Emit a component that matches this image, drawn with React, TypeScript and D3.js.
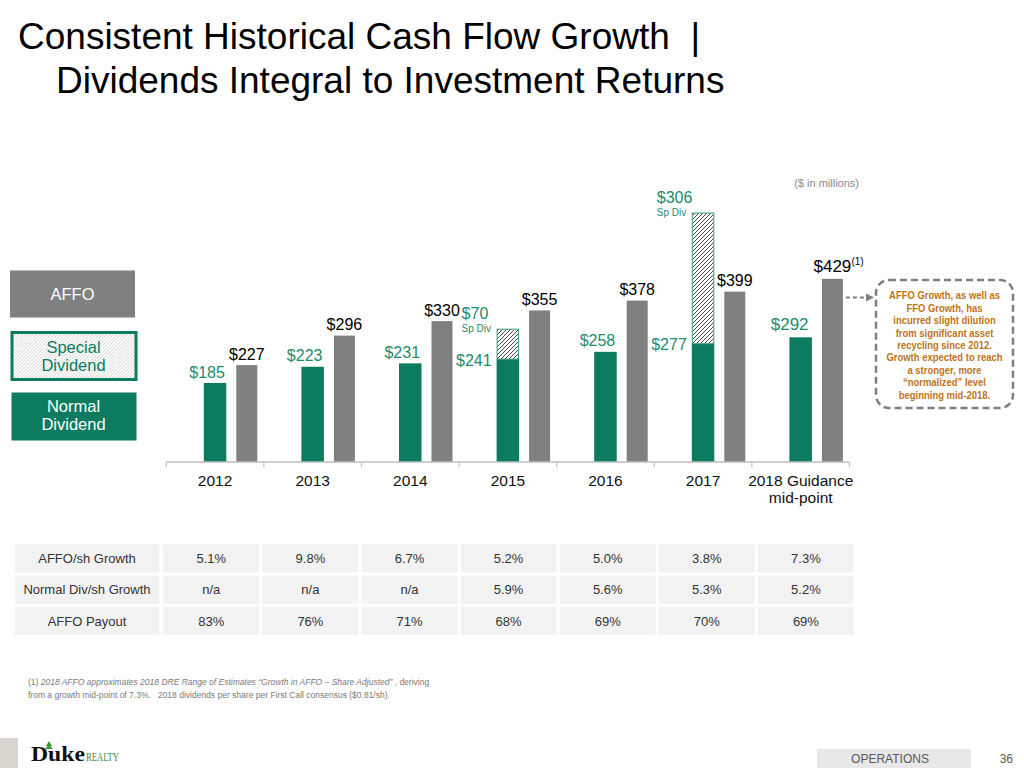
import React from "react";
import * as d3 from "d3";

// ---------- data ----------
const categories = ["2012", "2013", "2014", "2015", "2016", "2017", "2018"];
const categoryLabels = [["2012"], ["2013"], ["2014"], ["2015"], ["2016"], ["2017"], ["2018 Guidance", "mid-point"]];
const normalDividend = [185, 223, 231, 241, 258, 277, 292];
const specialDividend = [0, 0, 0, 70, 0, 306, 0];
const affo = [227, 296, 330, 355, 378, 399, 429];

const tableRowLabels = ["AFFO/sh Growth", "Normal Div/sh Growth", "AFFO Payout"];
const affoShGrowth = ["5.1%", "9.8%", "6.7%", "5.2%", "5.0%", "3.8%", "7.3%"];
const normalDivShGrowth = ["n/a", "n/a", "n/a", "5.9%", "5.6%", "5.3%", "5.2%"];
const affoPayout = ["83%", "76%", "71%", "68%", "69%", "70%", "69%"];

const calloutLines = [
  "AFFO Growth, as well as",
  "FFO Growth, has",
  "incurred slight dilution",
  "from significant asset",
  "recycling since 2012.",
  "Growth expected to reach",
  "a stronger, more",
  "\u201Cnormalized\u201D level",
  "beginning mid-2018.",
];

// ---------- styles ----------
const FONT = "'Liberation Sans', Arial, Helvetica, sans-serif";
const GREEN = "#0c7b5f";
const GREEN_TEXT = "#1f8a6b";
const GRAY_BAR = "#808080";

export default function App() {
  const baseY = 462;
  const y = d3.scaleLinear().domain([0, 600]).range([baseY, baseY - 600 * 0.427]);
  const x = d3.scaleBand<string>().domain(categories).range([166.3, 849.5]);
  const step = x.step();
  const normalOff = 37.5, normalW = 22.5, affoOff = 70, affoW = 21;

  const tableRows = [affoShGrowth, normalDivShGrowth, affoPayout];
  const tableColX = d3.scaleLinear().domain([0, 1]).range([163.3, 262.4]);
  const tableRowY = d3.scaleLinear().domain([0, 1]).range([544.3, 575.6]);
  const rowH = 28.2;
  const colW = 96;

  const lastIdx = categories.length - 1;
  const affoLastRight = (x(categories[lastIdx]) as number) + affoOff + affoW;

  return (
    <svg width={1024} height={768} style={{ position: "absolute", left: 0, top: 0, background: "#fff" }} fontFamily={FONT}>
      <defs>
        <pattern id="hatchDark" patternUnits="userSpaceOnUse" width={4} height={4}>
          <rect width={4} height={4} fill="#fff" />
          <path d="M-1,1 L1,-1 M0,4 L4,0 M3,5 L5,3" stroke="#333" strokeWidth={0.9} />
        </pattern>
        <pattern id="hatchLight" patternUnits="userSpaceOnUse" width={3.5} height={3.5}>
          <rect width={3.5} height={3.5} fill="#fff" />
          <path d="M-1,1 L1,-1 M0,3.5 L3.5,0 M2.5,4.5 L4.5,2.5" stroke="#c4c4c4" strokeWidth={0.8} />
        </pattern>
      </defs>

      {/* Title */}
      <text x={18} y={49} fontSize={37} fill="#000" style={{ whiteSpace: "pre" }}>{"Consistent Historical Cash Flow Growth  |"}</text>
      <text x={56} y={93} fontSize={37} fill="#000">Dividends Integral to Investment Returns</text>

      {/* units */}
      <text x={859} y={187} fontSize={11} fill="#8a8a8a" textAnchor="end">($ in millions)</text>

      {/* Legend */}
      <rect x={10} y={270.5} width={125} height={47} fill={GRAY_BAR} />
      <text x={72.5} y={299.5} fontSize={16.5} fill="#fff" textAnchor="middle">AFFO</text>
      <rect x={12} y={332.5} width={124} height={47} fill="url(#hatchLight)" stroke={GREEN} strokeWidth={3} />
      <text x={73.5} y={352.5} fontSize={16.5} fill={GREEN} textAnchor="middle">Special</text>
      <text x={73.5} y={370.5} fontSize={16.5} fill={GREEN} textAnchor="middle">Dividend</text>
      <rect x={11.5} y={392.5} width={125} height={48} fill={GREEN} />
      <text x={73.5} y={412} fontSize={16.5} fill="#fff" textAnchor="middle">Normal</text>
      <text x={73.5} y={430} fontSize={16.5} fill="#fff" textAnchor="middle">Dividend</text>

      {/* Bars */}
      {categories.map((c, i) => {
        const bx = x(c) as number;
        const nx = bx + normalOff;
        const ax = bx + affoOff;
        const nTop = y(normalDividend[i]);
        const sp = specialDividend[i];
        const sTop = y(normalDividend[i] + sp);
        const aTop = y(affo[i]);
        const big = i === lastIdx;
        const fs = big ? 17 : 16;
        return (
          <g key={c}>
            <rect x={nx} y={nTop} width={normalW} height={baseY - nTop} fill={GREEN} />
            {sp > 0 && (
              <rect x={nx + 0.5} y={sTop} width={normalW - 1} height={nTop - sTop} fill="url(#hatchDark)" stroke="#3a9b80" strokeWidth={1} />
            )}
            <rect x={ax} y={aTop} width={affoW} height={baseY - aTop} fill={GRAY_BAR} />
            {sp > 0 ? (
              <>
                <text x={nx - 5} y={nTop + 6.5} fontSize={fs} fill={GREEN_TEXT} textAnchor="end">{`$${normalDividend[i]}`}</text>
                <text x={nx - 35} y={sTop - 10} fontSize={fs} fill={GREEN_TEXT}>{`$${sp}`}</text>
                <text x={nx - 35} y={sTop + 3} fontSize={10} fill={GREEN_TEXT}>Sp Div</text>
              </>
            ) : (
              <text x={nx + normalW / 2 - (big ? 11 : 8)} y={nTop - (big ? 7 : 5.5)} fontSize={fs} fill={GREEN_TEXT} textAnchor="middle">{`$${normalDividend[i]}`}</text>
            )}
            <text x={ax + affoW / 2} y={aTop - (big ? 7 : 5.5)} fontSize={fs} fill="#000" textAnchor="middle">{`$${affo[i]}`}</text>
            {big && (
              <text x={ax + affoW / 2 + 19} y={265} fontSize={10} fill="#000">(1)</text>
            )}
            {categoryLabels[i].map((t, k) => (
              <text key={k} x={bx + step / 2} y={486 + k * 17} fontSize={15.5} fill="#111" textAnchor="middle">{t}</text>
            ))}
          </g>
        );
      })}

      {/* Axis */}
      <line x1={x.range()[0]} x2={x.range()[1]} y1={baseY} y2={baseY} stroke="#bfbfbf" strokeWidth={1.5} />
      {d3.range(categories.length + 1).map((k) => {
        const tx = x.range()[0] + k * step;
        return <line key={k} x1={tx} x2={tx} y1={baseY} y2={baseY + 5} stroke="#bfbfbf" strokeWidth={1.2} />;
      })}

      {/* Callout */}
      <line x1={affoLastRight + 3} x2={868} y1={297.5} y2={297.5} stroke="#7f7f7f" strokeWidth={2} strokeDasharray="4,3" />
      <path d="M866,293.5 L874,297.5 L866,301.5 Z" fill="#7f7f7f" />
      <rect x={876} y={280} width={137} height={128} rx={13} fill="#fff" stroke="#7f7f7f" strokeWidth={2.5} strokeDasharray="7,4" />
      <g transform="translate(944.5,0) scale(0.86,1)">
        {calloutLines.map((t, k) => (
          <text key={k} x={0} y={299.5 + k * 12.4} fontSize={11} fontWeight="bold" fill="#c0731a" textAnchor="middle">{t}</text>
        ))}
      </g>

      {/* Table */}
      {tableRowLabels.map((lab, r) => {
        const ry = tableRowY(r);
        return (
          <g key={lab}>
            <rect x={15} y={ry} width={144.3} height={rowH} fill="#f2f2f2" />
            <text x={87} y={ry + rowH / 2 + 4.5} fontSize={13} fill="#333" textAnchor="middle">{lab}</text>
            {tableRows[r].map((v, ci) => (
              <g key={ci}>
                <rect x={tableColX(ci)} y={ry} width={colW} height={rowH} fill="#f2f2f2" />
                <text x={tableColX(ci) + colW / 2} y={ry + rowH / 2 + 4.5} fontSize={13} fill="#333" textAnchor="middle">{v}</text>
              </g>
            ))}
          </g>
        );
      })}

      {/* Footnote */}
      <text x={28} y={685} fontSize={8.5} fill="#7a7a7a">
        (1) <tspan fontStyle="italic">2018 AFFO approximates 2018 DRE Range of Estimates {"\u201C"}Growth in AFFO {"\u2013"} Share Adjusted{"\u201D"}</tspan> , deriving
      </text>
      <text x={28} y={697.5} fontSize={8.5} fill="#7a7a7a" style={{ whiteSpace: "pre" }}>
        {"from a growth mid-point of 7.3%.   2018 dividends per share per First Call consensus ($0.81/sh)."}
      </text>

      {/* Footer */}
      <rect x={0} y={738} width={18} height={30} fill="#d9d6d0" />
      <path d="M49,741 L52,746 L50.5,746 L53,749 L45,749 L47.5,746 L46,746 Z" fill="#3f9a3a" />
      <text x={31} y={761} fontSize={22} fontWeight="bold" fontFamily="'Liberation Serif', 'Times New Roman', serif" fill="#111" textLength={54} lengthAdjust="spacingAndGlyphs">Duke</text>
      <text x={86} y={761} fontSize={12.5} fontFamily="'Liberation Serif', 'Times New Roman', serif" fill="#3f8c3a" textLength={33} lengthAdjust="spacingAndGlyphs">REALTY</text>

      <rect x={817} y={749} width={154} height={19} fill="#e8e8e8" />
      <text x={890} y={762.5} fontSize={12} fill="#595959" textAnchor="middle">OPERATIONS</text>
      <text x={1013} y={762.5} fontSize={12} fill="#595959" textAnchor="end">36</text>
    </svg>
  );
}
